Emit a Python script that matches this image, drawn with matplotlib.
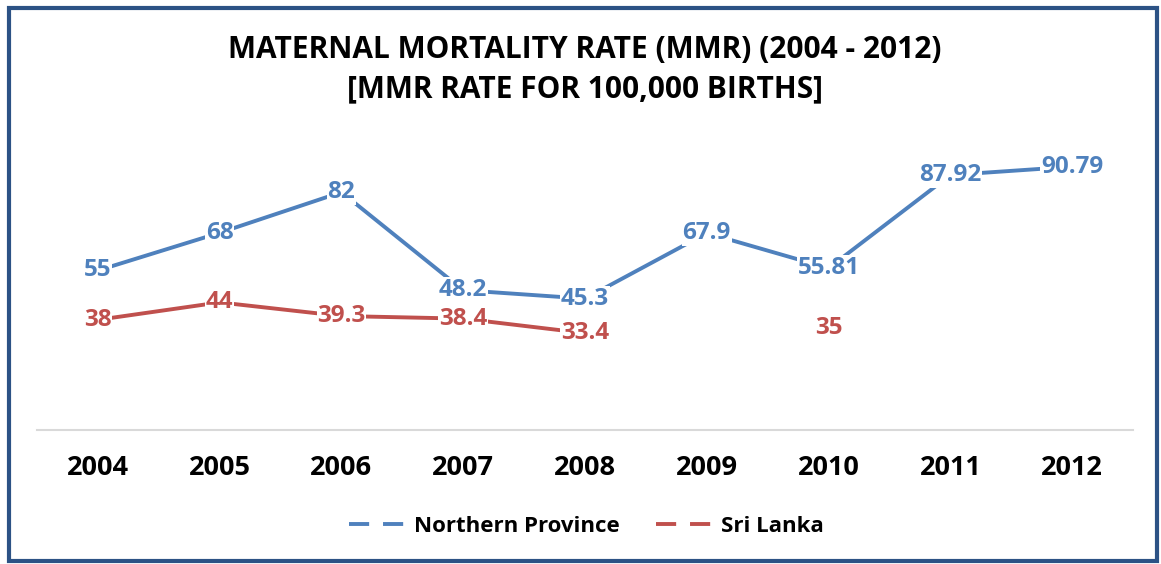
import numpy as np
import matplotlib
matplotlib.use('Agg')
import matplotlib.pyplot as plt
from matplotlib.lines import Line2D
from matplotlib.patches import Rectangle

plt.rcParams['font.family'] = ['Open Sans', 'DejaVu Sans']
plt.rcParams['lines.scale_dashes'] = False

# data
years = ['2004', '2005', '2006', '2007', '2008', '2009', '2010', '2011', '2012']
northern = [55, 68, 82, 48.2, 45.3, 67.9, 55.81, 87.92, 90.79]
sri_lanka = [38, 44, 39.3, 38.4, 33.4, np.nan, 35, np.nan, np.nan]
series_names = ['Northern Province', 'Sri Lanka']
colours = ['#4F81BD', '#C0504D']

title_1 = 'MATERNAL MORTALITY RATE (MMR) (2004 - 2012)'
title_2 = '[MMR RATE FOR 100,000 BIRTHS]'

fig = plt.figure(figsize=(11.61, 5.64), dpi=100)
ax = fig.add_axes([37 / 1161, 1 - 430 / 564, (1133 - 37) / 1161, 290 / 564])

x = np.arange(len(years))
for vals, col in zip([northern, sri_lanka], colours):
    ax.plot(x, vals, color=col, lw=2.8, zorder=2, solid_capstyle='butt')
    for xi, v in zip(x, vals):
        if np.isnan(v):
            continue
        ax.text(xi, v, '{:g}'.format(v), ha='center', va='center', color=col,
                fontsize=17.5, fontweight='bold', zorder=3,
                bbox=dict(facecolor='white', edgecolor='none', pad=0.5))

ax.set_xlim(-0.5, len(years) - 0.5)
ax.set_ylim(0, 100)
ax.set_xticks(x)
ax.set_xticklabels(years, fontsize=19.5, fontweight='bold')
ax.set_yticks([])
ax.tick_params(axis='x', length=0, pad=18)
for s in ['top', 'left', 'right']:
    ax.spines[s].set_visible(False)
ax.spines['bottom'].set_color('#D9D9D9')
ax.spines['bottom'].set_linewidth(1.5)

fig.text(0.504, 1 - 50 / 564, title_1, ha='center', va='center', fontsize=21.5, fontweight='bold')
fig.text(0.504, 1 - 89 / 564, title_2, ha='center', va='center', fontsize=21.5, fontweight='bold')

handles = [Line2D([], [], color=c, lw=2.8, dashes=(14.5, 10)) for c in colours]
fig.legend(handles, series_names, loc='center', bbox_to_anchor=(0.505, 1 - 526 / 564),
           ncol=2, frameon=False, handlelength=2.9, handletextpad=0.05, columnspacing=1.6,
           prop=dict(size=16, weight='bold'))

fig.patches.append(Rectangle((9 / 1161, 3 / 564), 1148 / 1161, 553 / 564, transform=fig.transFigure,
                             fill=False, edgecolor='#2C5285', lw=3))

fig.savefig('out.png', dpi=100)
